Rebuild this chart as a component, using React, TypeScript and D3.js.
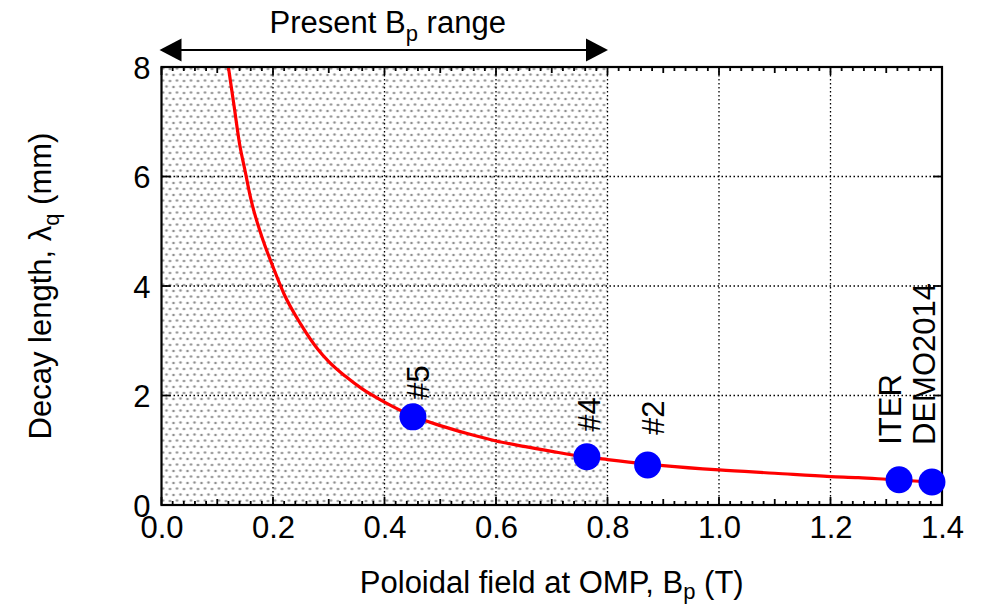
import React, { useEffect, useRef } from 'react';
import * as d3 from 'd3';

// curve
const curveBp = [0.12, 0.13, 0.14, 0.15, 0.16, 0.18, 0.2, 0.22, 0.25, 0.28, 0.3, 0.33, 0.36, 0.4, 0.45, 0.5, 0.55, 0.6, 0.65, 0.7, 0.76, 0.8, 0.87, 0.9, 1.0, 1.1, 1.2, 1.25, 1.3, 1.38];
const curveLambda = [8.0, 7.3, 6.6, 6.1, 5.6, 4.9, 4.35, 3.85, 3.3, 2.85, 2.62, 2.35, 2.12, 1.88, 1.63, 1.45, 1.3, 1.17, 1.07, 0.98, 0.88, 0.83, 0.75, 0.72, 0.64, 0.58, 0.52, 0.5, 0.47, 0.42];

// machines
const machineNames = ['#5', '#4', '#2', 'ITER', 'DEMO2014'];
const machineBp = [0.451, 0.763, 0.872, 1.323, 1.382];
const machineLambda = [1.61, 0.88, 0.73, 0.46, 0.42];

const xTicks = [0, 0.2, 0.4, 0.6, 0.8, 1.0, 1.2, 1.4];
const yTicks = [0, 2, 4, 6, 8];
const presentRange = [0, 0.8];

const W = 984, H = 605;
const margin = { left: 161.5, right: 42, top: 67, bottom: 100 };
const FONT = '"Liberation Sans", Arial, Helvetica, sans-serif';
const FS = 31;
const SUB = 22;

export default function App() {
  const ref = useRef<SVGSVGElement | null>(null);

  useEffect(() => {
    const svg = d3.select(ref.current);
    svg.selectAll('*').remove();
    const width = W - margin.left - margin.right;
    const height = H - margin.top - margin.bottom;
    const x = d3.scaleLinear().domain([0, 1.4]).range([0, width]);
    const y = d3.scaleLinear().domain([0, 8]).range([height, 0]);

    const defs = svg.append('defs');
    const pat = defs.append('pattern')
      .attr('id', 'stipple').attr('patternUnits', 'userSpaceOnUse')
      .attr('width', 14).attr('height', 12);
    pat.append('rect').attr('width', 14).attr('height', 12).attr('fill', '#fff');
    [[1.5, 1.5], [8.5, 2], [5, 7.5], [12, 8]].forEach(([cx, cy]) =>
      pat.append('circle').attr('cx', cx).attr('cy', cy).attr('r', 1.3).attr('fill', '#8f8f8f'));
    defs.append('clipPath').attr('id', 'plotclip')
      .append('rect').attr('width', width).attr('height', height);

    const g = svg.append('g').attr('transform', `translate(${margin.left},${margin.top})`);

    // present range shading
    g.append('rect')
      .attr('x', x(presentRange[0])).attr('y', 0)
      .attr('width', x(presentRange[1]) - x(presentRange[0])).attr('height', height)
      .attr('fill', 'url(#stipple)');

    // dotted grid
    const grid = g.append('g').attr('stroke', '#000').attr('stroke-width', 1.3)
      .attr('stroke-dasharray', '1.5,2.5');
    xTicks.slice(1, -1).forEach(t =>
      grid.append('line').attr('x1', x(t)).attr('x2', x(t)).attr('y1', 0).attr('y2', height));
    yTicks.slice(1, -1).forEach(t =>
      grid.append('line').attr('x1', 0).attr('x2', width).attr('y1', y(t)).attr('y2', y(t)));

    // axes with inward ticks
    const minor = d3.range(0, 1.4001, 0.02);
    const tickLen = (d: number) => {
      const k = Math.round(d * 50);
      return k % 10 === 0 ? 8 : k % 5 === 0 ? 6 : 4;
    };
    const ticks = g.append('g').attr('stroke', '#000').attr('stroke-width', 1.8);
    minor.forEach(d => {
      ticks.append('line').attr('x1', x(d)).attr('x2', x(d)).attr('y1', height).attr('y2', height - tickLen(d));
      ticks.append('line').attr('x1', x(d)).attr('x2', x(d)).attr('y1', 0).attr('y2', tickLen(d));
    });
    yTicks.forEach(t => {
      ticks.append('line').attr('x1', 0).attr('x2', 9).attr('y1', y(t)).attr('y2', y(t));
      ticks.append('line').attr('x1', width).attr('x2', width - 9).attr('y1', y(t)).attr('y2', y(t));
    });

    const xAxis = d3.axisBottom(x).tickValues(xTicks).tickSize(0)
      .tickFormat(d3.format('.1f'));
    g.append('g').attr('transform', `translate(0,${height})`).call(xAxis)
      .call(a => a.select('.domain').remove())
      .selectAll('text').attr('font-size', FS).attr('font-family', FONT).attr('fill', '#000')
      .attr('y', 33).attr('dy', 0);
    const yAxis = d3.axisLeft(y).tickValues(yTicks).tickSize(0).tickPadding(11)
      .tickFormat(d3.format('d'));
    g.append('g').call(yAxis)
      .call(a => a.select('.domain').remove())
      .selectAll('text').attr('font-size', FS).attr('font-family', FONT).attr('fill', '#000')
      .attr('dy', '0.36em');

    // curve
    const pts = curveBp.map((b, i) => [b, curveLambda[i]] as [number, number]);
    g.append('path').datum(pts)
      .attr('clip-path', 'url(#plotclip)')
      .attr('d', d3.line<[number, number]>().x(d => x(d[0])).y(d => y(d[1])).curve(d3.curveMonotoneX))
      .attr('fill', 'none').attr('stroke', '#ff0000').attr('stroke-width', 3.2);

    // frame
    g.append('rect').attr('width', width).attr('height', height)
      .attr('fill', 'none').attr('stroke', '#000').attr('stroke-width', 2.2);

    // machine markers
    const labelDx = [5, 2, 5, -9, -8];
    const labelLift = [17, 25, 30, 35, 37];
    machineNames.forEach((name, i) => {
      const cx = x(machineBp[i]), cy = y(machineLambda[i]);
      g.append('circle').attr('cx', cx).attr('cy', cy).attr('r', 13.5).attr('fill', '#0000ff');
      const lx = cx + labelDx[i] + 11, ly = cy - labelLift[i];
      g.append('text').attr('transform', `translate(${lx},${ly}) rotate(-90)`)
        .attr('font-size', FS).attr('font-family', FONT).attr('fill', '#000').text(name);
    });

    // present range arrow
    const ay = 50 - margin.top;
    const ax0 = x(presentRange[0]) - 2, ax1 = x(presentRange[1]) + 0.5;
    g.append('line').attr('x1', ax0 + 18).attr('x2', ax1 - 18).attr('y1', ay).attr('y2', ay)
      .attr('stroke', '#000').attr('stroke-width', 2);
    g.append('path').attr('d', `M${ax0},${ay}L${ax0 + 22},${ay - 11.5}L${ax0 + 22},${ay + 11.5}Z`).attr('fill', '#000');
    g.append('path').attr('d', `M${ax1},${ay}L${ax1 - 22},${ay - 11.5}L${ax1 - 22},${ay + 11.5}Z`).attr('fill', '#000');
    const tt = g.append('text').attr('x', (ax0 + ax1) / 2 + 4).attr('y', 33 - margin.top)
      .attr('text-anchor', 'middle').attr('font-size', FS).attr('font-family', FONT).attr('fill', '#000');
    tt.append('tspan').text('Present B');
    tt.append('tspan').attr('font-size', SUB).attr('dy', 8).text('p');
    tt.append('tspan').attr('dy', -8).text(' range');

    // axis titles
    const xt = svg.append('text').attr('x', margin.left + width / 2).attr('y', 593)
      .attr('text-anchor', 'middle').attr('font-size', FS).attr('font-family', FONT).attr('fill', '#000');
    xt.append('tspan').text('Poloidal field at OMP, B');
    xt.append('tspan').attr('font-size', SUB).attr('dy', 6).text('p');
    xt.append('tspan').attr('dy', -6).text(' (T)');

    const yt = svg.append('text').attr('transform', `translate(51,${margin.top + height / 2}) rotate(-90)`)
      .attr('text-anchor', 'middle').attr('font-size', FS).attr('font-family', FONT).attr('fill', '#000');
    yt.append('tspan').text('Decay length, λ');
    yt.append('tspan').attr('font-size', SUB).attr('dy', 8).text('q');
    yt.append('tspan').attr('dy', -8).text(' (mm)');
  }, []);

  return (
    <svg ref={ref} width={W} height={H}
      style={{ position: 'absolute', left: 0, top: 0, background: '#fff' }} />
  );
}
